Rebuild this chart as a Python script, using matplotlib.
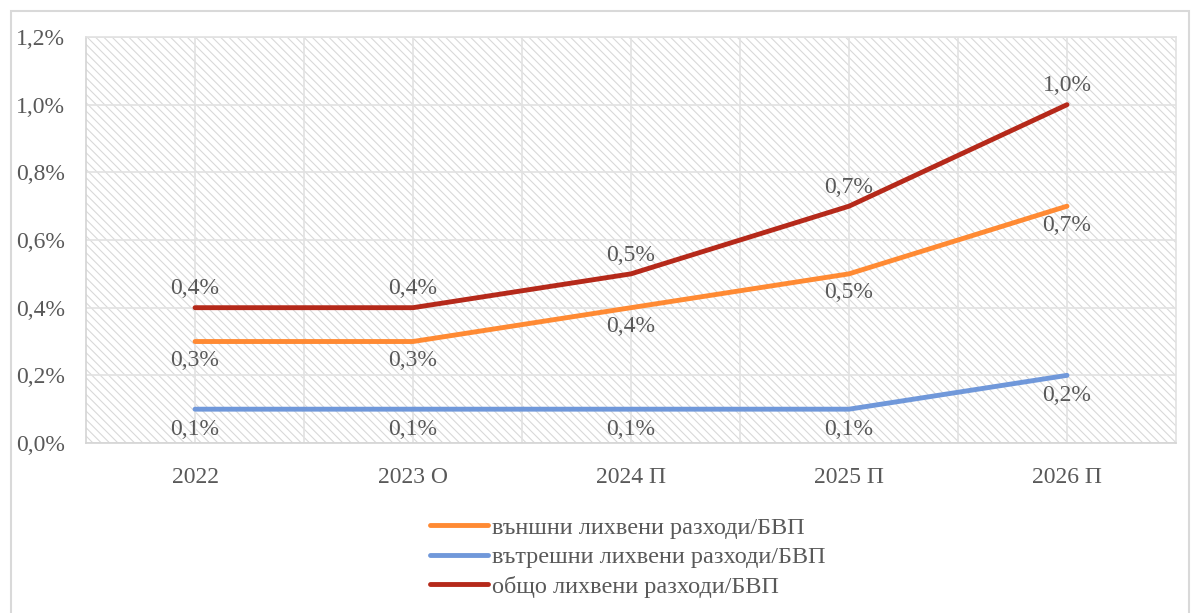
import matplotlib.pyplot as plt
import matplotlib.patches as mpatches
from matplotlib.ticker import FuncFormatter, MultipleLocator

plt.rcParams['font.family'] = ['Liberation Serif', 'DejaVu Serif']
plt.rcParams['hatch.color'] = '#d9d9d9'
plt.rcParams['hatch.linewidth'] = 0.8

categories = ['2022', '2023 О', '2024 П', '2025 П', '2026 П']
external = [0.3, 0.3, 0.4, 0.5, 0.7]
domestic = [0.1, 0.1, 0.1, 0.1, 0.2]
total = [0.4, 0.4, 0.5, 0.7, 1.0]

labels = ['външни лихвени разходи/БВП',
          'вътрешни лихвени разходи/БВП',
          'общо лихвени разходи/БВП']
colors = ['#FF8A33', '#7098DA', '#B5291A']

text_col = '#595959'
grid_col = '#e2e2e2'
fs = 17


def pct(v, pos=None):
    return f'{v:.1f}%'.replace('.', ',')


fig = plt.figure(figsize=(12, 6.13), dpi=100)
ax = fig.add_axes([0.0717, 0.2773, 0.9083, 0.6623])

# outer frame of the chart area
fig.patches.append(mpatches.Rectangle((11 / 1200, -0.01), 1178 / 1200, 1 - 11 / 613 + 0.01,
                                      transform=fig.transFigure, fill=False,
                                      edgecolor='#d9d9d9', linewidth=1.5))

ax.set_facecolor('white')
ax.add_patch(mpatches.Rectangle((0, 0), 1, 1, transform=ax.transAxes, facecolor='white',
                                edgecolor='#d9d9d9', hatch='\\\\\\\\', linewidth=0, zorder=0))

x = list(range(len(categories)))
ax.set_xlim(-0.5, len(categories) - 0.5)
ax.set_ylim(0, 1.2)

ax.yaxis.set_major_locator(MultipleLocator(0.2))
ax.yaxis.set_major_formatter(FuncFormatter(pct))
ax.set_xticks(x)
ax.set_xticklabels(categories)
ax.set_xticks([i + 0.5 for i in x[:-1]], minor=True)

ax.grid(True, which='major', color=grid_col, linewidth=1.2, zorder=1)
ax.grid(True, which='minor', axis='x', color=grid_col, linewidth=1.2, zorder=1)
ax.tick_params(which='both', length=0, colors=text_col, labelsize=fs)
ax.tick_params(axis='x', pad=17)
ax.tick_params(axis='y', pad=15)
for side in ['top', 'right']:
    ax.spines[side].set_color(grid_col)
for side in ['left', 'bottom']:
    ax.spines[side].set_color('#d4d4d4')
for s in ax.spines.values():
    s.set_linewidth(1.2)

series = [external, domestic, total]
for vals, lab, col in zip(series, labels, colors):
    ax.plot(x, vals, color=col, linewidth=3.5, label=lab, zorder=3, solid_capstyle='round')

for i, v in enumerate(total):
    ax.annotate(pct(v), (i, v), xytext=(0, 6), textcoords='offset points',
                ha='center', va='bottom', fontsize=fs, color=text_col)
for i, v in enumerate(external):
    ax.annotate(pct(v), (i, v), xytext=(0, -6), textcoords='offset points',
                ha='center', va='top', fontsize=fs, color=text_col)
for i, v in enumerate(domestic):
    ax.annotate(pct(v), (i, v), xytext=(0, -7), textcoords='offset points',
                ha='center', va='top', fontsize=fs, color=text_col)

leg = fig.legend(loc='center', bbox_to_anchor=(0.523, 0.091), frameon=False, fontsize=17.5,
                 handlelength=2.4, handletextpad=0.15, labelspacing=0.3)
for t in leg.get_texts():
    t.set_color(text_col)

fig.savefig('out.png', dpi=100)
